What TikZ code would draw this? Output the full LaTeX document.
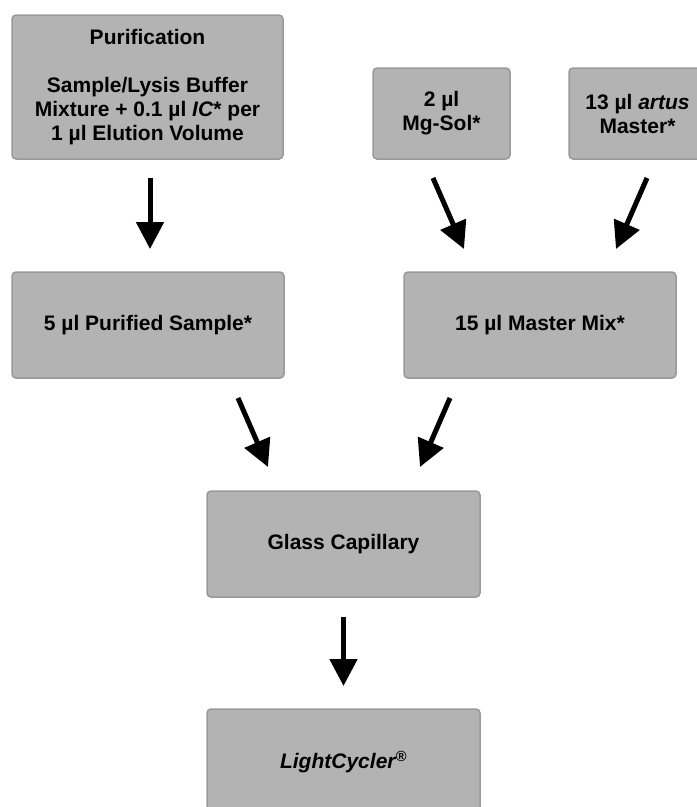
\documentclass[tikz,border=0pt]{standalone}
\usepackage{fontspec}
\setmainfont{Liberation Sans}
\usetikzlibrary{arrows.meta}
\definecolor{boxfill}{HTML}{B3B3B3}
\definecolor{boxline}{HTML}{999999}
\tikzset{
  stepbox/.style={draw=boxline, fill=boxfill, line width=1.5pt, rounded corners=4pt,
    inner sep=0pt, align=center, font=\fontsize{21}{24}\selectfont\bfseries},
  flowarrow/.style={line width=5pt, -{Triangle[length=27pt,width=27pt]}}
}
\begin{document}
\begin{tikzpicture}[x=1pt,y=-1pt]
\useasboundingbox (0,0) rectangle (697,807);
\clip (0,0) rectangle (697,807);
\node[stepbox, minimum width=271pt, minimum height=144pt] (pur) at (147.5,87)
  {Purification\\[24pt]Sample/Lysis Buffer\\Mixture + 0.1 µl \textit{IC}* per\\1 µl Elution Volume};
\node[stepbox, minimum width=137pt, minimum height=91pt] (mg) at (441.5,113.5)
  {2 µl\\Mg-Sol*};
\node[stepbox, minimum width=137pt, minimum height=91pt] (art) at (637.5,113.5)
  {13 µl \textit{artus}\\Master*};
\node[stepbox, minimum width=272pt, minimum height=106pt] (sample) at (148,325)
  {5 µl Purified Sample*};
\node[stepbox, minimum width=272pt, minimum height=106pt] (mm) at (540,325)
  {15 µl Master Mix*};
\node[stepbox, minimum width=273pt, minimum height=106pt] (glass) at (343.5,544)
  {Glass Capillary};
\node[stepbox, minimum width=273pt, minimum height=106pt] (lc) at (343.5,762)
  {\textit{LightCycler\textsuperscript{®}}};
% arrow end points
\coordinate (a1s) at (150,178);  \coordinate (a1e) at (150,249);
\coordinate (a2s) at (433,178);  \coordinate (a2e) at (464,249);
\coordinate (a3s) at (647,178);  \coordinate (a3e) at (616,249);
\coordinate (a4s) at (238,398);  \coordinate (a4e) at (268,467);
\coordinate (a5s) at (450,398);  \coordinate (a5e) at (420,467);
\coordinate (a6s) at (343.5,617); \coordinate (a6e) at (343.5,686);
\draw[flowarrow] (a1s) -- (a1e);
\draw[flowarrow] (a2s) -- (a2e);
\draw[flowarrow] (a3s) -- (a3e);
\draw[flowarrow] (a4s) -- (a4e);
\draw[flowarrow] (a5s) -- (a5e);
\draw[flowarrow] (a6s) -- (a6e);
\end{tikzpicture}
\end{document}
